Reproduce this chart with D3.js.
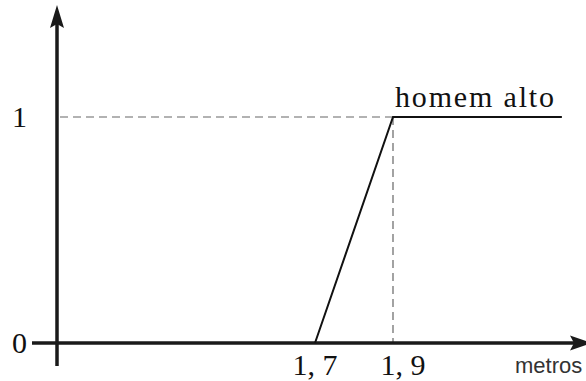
<!DOCTYPE html>
<html>
<head>
<meta charset="utf-8">
<script src="https://cdn.jsdelivr.net/npm/d3@7"></script>
<style>
  html, body { margin: 0; padding: 0; background: #fff; }
  svg { display: block; }
</style>
</head>
<body>
<svg id="chart" width="586" height="381"></svg>
<script>
// Membership function of the fuzzy set "homem alto" (height in metres)
const heights = [1.7, 1.9, 2.333];
const membership = [0, 1, 1];

const xTickValues = [1.7, 1.9];
const xTickLabels = ["1, 7", "1, 9"];
const yTickValues = [0, 1];
const yTickLabels = ["0", "1"];

const seriesLabel = "homem alto";
const xAxisTitle = "metros";

const svg = d3.select("#chart");
const W = 586, H = 381;

const x = d3.scaleLinear().domain([1.7, 1.9]).range([315, 393]);
const y = d3.scaleLinear().domain([0, 1]).range([343, 117]);

const axisX = 57;          // position of the vertical axis
const axisColor = "#1a1a1a";
const serif = "'Liberation Serif', 'Times New Roman', serif";

// dashed guides at membership 1 and height 1.9
svg.append("line")
  .attr("x1", axisX + 3).attr("x2", x(1.9))
  .attr("y1", y(1)).attr("y2", y(1))
  .attr("stroke", "#666").attr("stroke-width", 1.2)
  .attr("stroke-dasharray", "8,5");
svg.append("line")
  .attr("x1", x(1.9)).attr("x2", x(1.9))
  .attr("y1", y(1)).attr("y2", y(0))
  .attr("stroke", "#666").attr("stroke-width", 1.2)
  .attr("stroke-dasharray", "8,5");

// axes with arrowheads
svg.append("line")
  .attr("x1", axisX).attr("x2", axisX)
  .attr("y1", 366).attr("y2", 24)
  .attr("stroke", axisColor).attr("stroke-width", 3.5);
svg.append("path")
  .attr("d", `M${axisX},5 L${axisX + 7},28 L${axisX},24 L${axisX - 7},28 Z`)
  .attr("fill", axisColor);

svg.append("line")
  .attr("x1", 32).attr("x2", 575)
  .attr("y1", y(0)).attr("y2", y(0))
  .attr("stroke", axisColor).attr("stroke-width", 3.5);
svg.append("path")
  .attr("d", `M592,${y(0)} L570,${y(0) - 7.5} L574,${y(0)} L570,${y(0) + 7.5} Z`)
  .attr("fill", axisColor);

// membership curve
const pts = heights.map((h, i) => [x(h), y(membership[i])]);
svg.append("path")
  .attr("d", d3.line()(pts))
  .attr("fill", "none")
  .attr("stroke", "#111")
  .attr("stroke-width", 2)
  .attr("stroke-linejoin", "miter");

// series label
svg.append("text")
  .attr("x", x(1.9) + 2).attr("y", y(1) - 10)
  .attr("font-family", serif).attr("font-size", 30)
  .attr("textLength", 159).attr("lengthAdjust", "spacing")
  .attr("fill", "#111")
  .text(seriesLabel);

// y tick labels
svg.selectAll("text.ytick")
  .data(yTickValues)
  .enter().append("text")
  .attr("class", "ytick")
  .attr("x", 19.5)
  .attr("y", d => y(d) + 10)
  .attr("text-anchor", "middle")
  .attr("font-family", serif).attr("font-size", 30)
  .attr("fill", "#111")
  .text((d, i) => yTickLabels[i]);

// x tick labels
svg.selectAll("text.xtick")
  .data(xTickValues)
  .enter().append("text")
  .attr("class", "xtick")
  .attr("x", (d, i) => x(d) + (i === 1 ? 10 : 0))
  .attr("y", 375)
  .attr("text-anchor", "middle")
  .attr("font-family", serif).attr("font-size", 30)
  .attr("fill", "#111")
  .text((d, i) => xTickLabels[i]);

// x axis title
svg.append("text")
  .attr("x", 515).attr("y", 373)
  .attr("font-family", "'Liberation Sans', Arial, sans-serif")
  .attr("font-size", 22)
  .attr("fill", "#333")
  .text(xAxisTitle);
</script>
</body>
</html>
